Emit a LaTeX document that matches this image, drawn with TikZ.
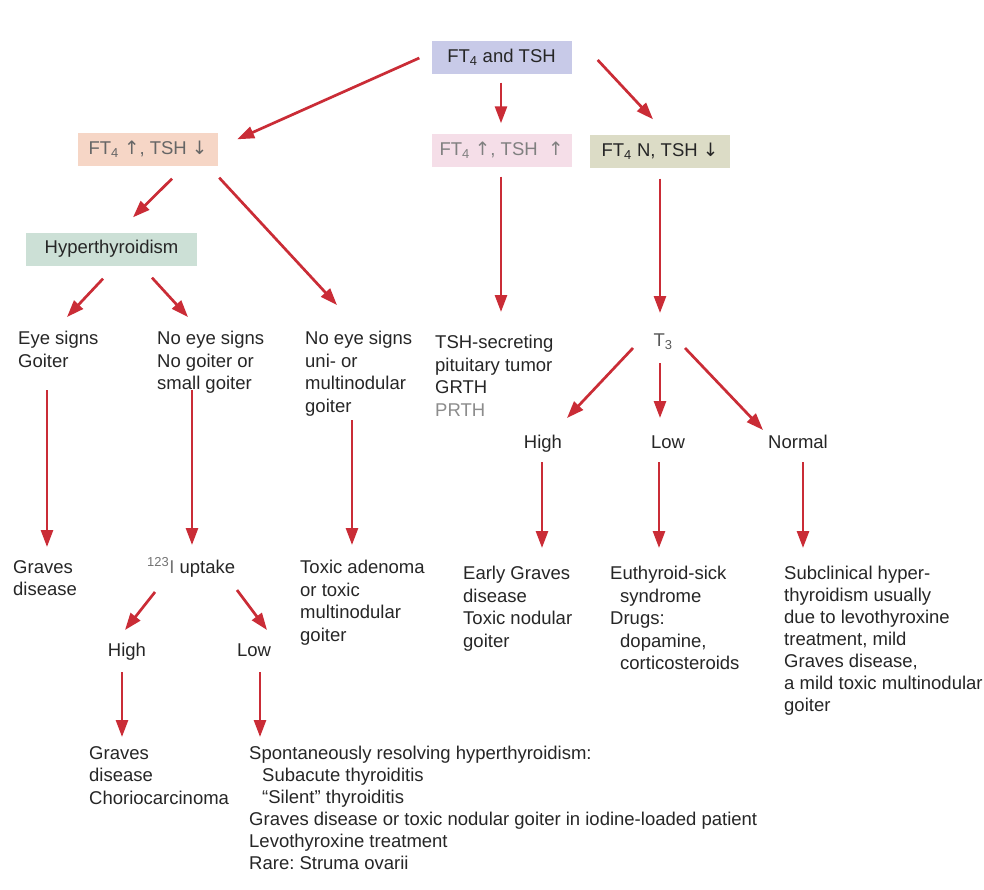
\documentclass[tikz,border=0pt]{standalone}
\usepackage{fontspec}
\setmainfont{Liberation Sans}
\newfontfamily\arrowfont{DejaVu Sans}
\usetikzlibrary{arrows.meta,calc}
\definecolor{arr}{RGB}{202,44,54}
\definecolor{txtc}{RGB}{38,38,38}
\definecolor{boxtop}{RGB}{200,202,232}
\definecolor{boxleft}{RGB}{246,214,198}
\definecolor{boxpink}{RGB}{245,222,232}
\definecolor{boxolive}{RGB}{220,220,198}
\definecolor{boxgreen}{RGB}{204,224,214}
\newcommand{\up}{{\arrowfont ↑}}
\newcommand{\dn}{{\arrowfont ↓}}
\newcommand{\ind}[1]{\hspace*{#1pt}}
\frenchspacing
\begin{document}
\begin{tikzpicture}[x=1pt,y=-1pt,
  conn/.style={draw=arr, line width=2.7pt, -{Triangle[length=17pt,width=12pt]}},
  txt/.style={anchor=north west, inner sep=0pt, align=left, text=txtc, font=\fontsize{18.5}{22.5}\selectfont},
  lbl/.style={anchor=base, inner sep=0pt, text=txtc, font=\fontsize{18.5}{22.5}\selectfont},
  box/.style={minimum width=140pt, minimum height=33pt, inner sep=0pt, text=txtc, font=\fontsize{18.5}{22.5}\selectfont}]
\useasboundingbox[fill=white] (0,0) rectangle (984,889);

% boxes
\node[box, fill=boxtop] (top) at (501.5,57) {FT\textsubscript{4} and TSH};
\node[box, fill=boxleft, text=black!60] (left) at (148,149) {FT\textsubscript{4} \up, TSH \dn};
\node[box, fill=boxpink, text=black!50] (pink) at (501.5,150) {FT\textsubscript{4} \up, TSH\ \ \up};
\node[box, fill=boxolive] (olive) at (660,151) {FT\textsubscript{4} N, TSH \dn};
\node[box, fill=boxgreen, minimum width=171pt] (hyper) at (111.5,249) {Hyperthyroidism};

% texts
\node[txt] (eye) at (18,331) {Eye signs\\Goiter};
\node[txt] (noeye) at (157,331) {No eye signs\\No goiter or\\small goiter};
\node[txt] (uni) at (305,331) {No eye signs\\uni- or\\multinodular\\goiter};
\node[txt] (tsh) at (435,335) {TSH-secreting\\pituitary tumor\\GRTH\\\textcolor{black!45}{PRTH}};
\node[lbl, text=black!65] (t3) at (663,346) {T\textsubscript{3}};
\node[lbl] (high1) at (543,448) {High};
\node[lbl] (low1) at (668,448) {Low};
\node[lbl] (normal) at (798,448) {Normal};

\node[txt] (graves) at (13,560) {Graves\\disease};
\node[anchor=base west, inner sep=0pt, text=txtc, font=\fontsize{18.5}{22.5}\selectfont] (uptake) at (147,573) {\textcolor{black!55}{\textsuperscript{123}I} uptake};
\node[txt] (toxic) at (300,560) {Toxic adenoma\\or toxic\\multinodular\\goiter};
\node[txt] (early) at (463,566) {Early Graves\\disease\\Toxic nodular\\goiter};
\node[txt] (euth) at (610,566) {Euthyroid-sick\\\ind{10}syndrome\\Drugs:\\\ind{10}dopamine,\\\ind{10}corticosteroids};
\node[txt, font=\fontsize{18.5}{22}\selectfont] (subc) at (784,566) {Subclinical hyper-\\thyroidism usually\\due to levothyroxine\\treatment, mild\\Graves disease,\\a mild toxic multinodular\\goiter};

\node[lbl] (high2) at (127,656) {High};
\node[lbl] (low2) at (254,656) {Low};

\node[txt] (graves2) at (89,746) {Graves\\disease\\Choriocarcinoma};
\node[txt, font=\fontsize{18.5}{22}\selectfont] (spont) at (249,746) {Spontaneously resolving hyperthyroidism:\\\ind{13}Subacute thyroiditis\\\ind{13}``Silent'' thyroiditis\\Graves disease or toxic nodular goiter in iodine-loaded patient\\Levothyroxine treatment\\Rare: Struma ovarii};

% connectors
\draw[conn] ($(top.west)+(-12,1)$) -- ($(left.north east)+(19,7)$);
\draw[conn] ($(top.south)+(-0.5,9)$) -- ($(pink.north)+(-0.5,-10)$);
\draw[conn] ($(top.east)+(26,3)$) -- ($(olive.north)+(-7,-15)$);
\draw[conn] ($(left.south)+(24,13)$) -- ($(hyper.north)+(21.5,-15)$);
\draw[conn] ($(left.south east)+(1,12)$) -- ($(uni.north west)+(32,-26)$);
\draw[conn] ($(pink.south)+(-0.5,10)$) -- ($(tsh.north west)+(66,-23)$);
\draw[conn] ($(olive.south)+(0,11)$) -- ($(t3.base)+(-3,-33)$);
\draw[conn] ($(hyper.south)+(-8.5,13)$) -- ($(eye.north west)+(49,-14)$);
\draw[conn] ($(hyper.south)+(40.5,12)$) -- ($(noeye.north west)+(31,-14)$);
\draw[conn] ($(eye.north west)+(29,59)$) -- ($(graves.north west)+(34,-13)$);
\draw[conn] ($(noeye.north west)+(35,59)$) -- ($(uptake.base west)+(45,-28)$);
\draw[conn] ($(uni.north west)+(47,89)$) -- ($(toxic.north west)+(52,-15)$);
\draw[conn] ($(uptake.base west)+(8,19)$) -- ($(high2.base)+(-2,-26)$);
\draw[conn] ($(uptake.base west)+(90,17)$) -- ($(low2.base)+(13,-26)$);
\draw[conn] ($(high2.base)+(-5,16)$) -- ($(graves2.north west)+(33,-9)$);
\draw[conn] ($(low2.base)+(6,16)$) -- ($(spont.north west)+(11,-9)$);
\draw[conn] ($(t3.base)+(-30,2)$) -- ($(high1.base)+(24,-30)$);
\draw[conn] ($(t3.base)+(-3,17)$) -- ($(low1.base)+(-8,-30)$);
\draw[conn] ($(t3.base)+(22,2)$) -- ($(normal.base)+(-35,-18)$);
\draw[conn] ($(high1.base)+(-1,14)$) -- ($(early.north west)+(79,-18)$);
\draw[conn] ($(low1.base)+(-9,14)$) -- ($(euth.north west)+(49,-18)$);
\draw[conn] ($(normal.base)+(5,14)$) -- ($(subc.north west)+(19,-18)$);
\end{tikzpicture}
\end{document}
